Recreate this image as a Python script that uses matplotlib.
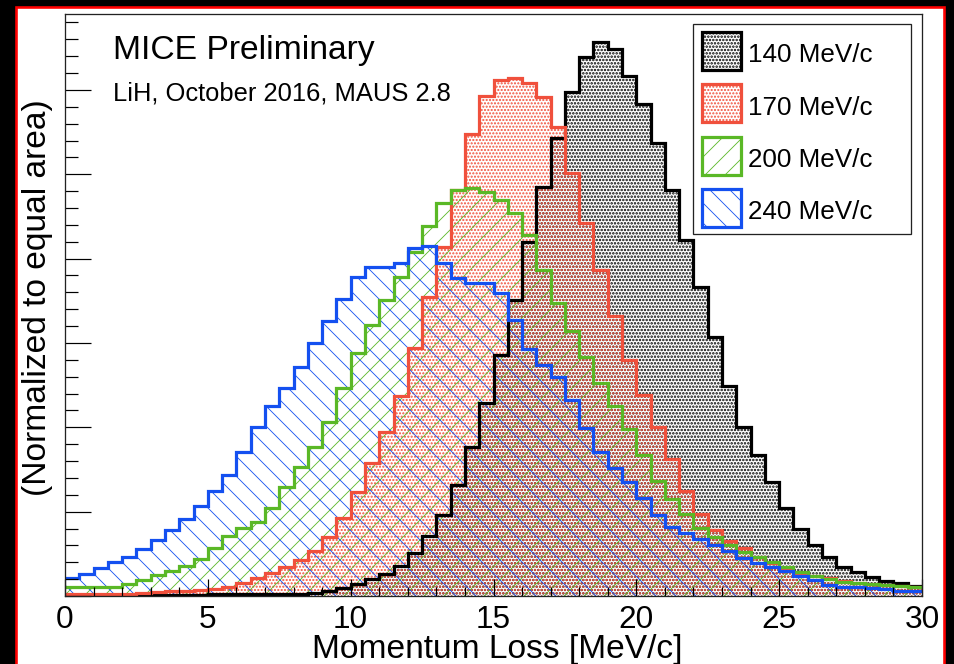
import numpy as np
import matplotlib
matplotlib.use("Agg")
import matplotlib.pyplot as plt
from matplotlib.patches import Rectangle
from matplotlib.ticker import MultipleLocator

# ---------------- data (0.5 MeV/c bins from 0 to 30 MeV/c) ----------------
bin_lo, bin_hi, n_bins = 0.0, 30.0, 60

loss_140 = [0.01, 0.01, 0.01, 0.01, 0.01, 0.01, 0.01, 0.01, 0.01, 0.01,
            0.02, 0.02, 0.02, 0.02, 0.02, 0.02, 0.02, 0.04, 0.06, 0.09,
            0.14, 0.20, 0.26, 0.36, 0.51, 0.71, 0.96, 1.32, 1.77, 2.29,
            2.86, 3.51, 4.20, 4.85, 5.43, 5.98, 6.39, 6.57, 6.48, 6.17,
            5.83, 5.37, 4.81, 4.22, 3.66, 3.07, 2.49, 2.00, 1.67, 1.35,
            1.04, 0.79, 0.61, 0.46, 0.34, 0.28, 0.22, 0.18, 0.15, 0.12]

loss_170 = [0.02, 0.02, 0.02, 0.02, 0.02, 0.04, 0.05, 0.06, 0.06, 0.07,
            0.08, 0.11, 0.15, 0.21, 0.27, 0.34, 0.43, 0.53, 0.70, 0.92,
            1.23, 1.58, 1.94, 2.37, 2.94, 3.55, 4.14, 4.81, 5.48, 5.93,
            6.12, 6.14, 6.08, 5.92, 5.56, 5.02, 4.42, 3.87, 3.32, 2.80,
            2.38, 2.00, 1.62, 1.25, 0.97, 0.78, 0.65, 0.57, 0.46, 0.39,
            0.32, 0.27, 0.24, 0.21, 0.18, 0.15, 0.14, 0.13, 0.12, 0.11]

loss_200 = [0.11, 0.11, 0.11, 0.11, 0.14, 0.19, 0.25, 0.30, 0.36, 0.44,
            0.57, 0.71, 0.81, 0.88, 1.04, 1.29, 1.53, 1.77, 2.06, 2.47,
            2.88, 3.21, 3.51, 3.78, 4.08, 4.39, 4.66, 4.81, 4.84, 4.79,
            4.70, 4.54, 4.28, 3.87, 3.47, 3.14, 2.83, 2.53, 2.25, 1.98,
            1.67, 1.36, 1.15, 0.97, 0.81, 0.70, 0.60, 0.52, 0.46, 0.40,
            0.34, 0.28, 0.24, 0.20, 0.17, 0.15, 0.14, 0.13, 0.12, 0.11]

loss_240 = [0.21, 0.26, 0.33, 0.40, 0.46, 0.56, 0.66, 0.78, 0.91, 1.07,
            1.25, 1.43, 1.71, 2.00, 2.25, 2.47, 2.72, 3.00, 3.26, 3.52,
            3.78, 3.90, 3.90, 3.95, 4.12, 4.15, 3.95, 3.77, 3.71, 3.71,
            3.59, 3.27, 2.93, 2.74, 2.60, 2.32, 1.99, 1.71, 1.52, 1.35,
            1.16, 0.96, 0.82, 0.75, 0.68, 0.60, 0.53, 0.45, 0.39, 0.34,
            0.30, 0.24, 0.19, 0.13, 0.11, 0.11, 0.09, 0.08, 0.06, 0.06]

labels = ["140 MeV/c", "170 MeV/c", "200 MeV/c", "240 MeV/c"]
colors = ["#000000", "#f0503c", "#5ab826", "#1450f0"]
hatches = ["......", "......", "//", "\\\\"]
hatch_lw = [1.0, 0.85, 0.5, 0.5]
x_ticks = [0, 5, 10, 15, 20, 25, 30]
x_label = "Momentum Loss [MeV/c]"
y_label = "(Normalized to equal area)"
title_main = "MICE Preliminary"
title_sub = "LiH, October 2016, MAUS 2.8"

# ---------------- figure ----------------
DPI = 120
W, H = 954, 664


def pt(px):
    return px * 72.0 / DPI


def fx(px):
    return px / W


def fy(py):
    return 1.0 - py / H


plt.rcParams["font.family"] = ["Liberation Sans", "DejaVu Sans"]

fig = plt.figure(figsize=(W / DPI, H / DPI), dpi=DPI, facecolor="black")

# red frame with white inside
frame = Rectangle((fx(16), fy(672)), fx(943.8) - fx(16), fy(7.2) - fy(672),
                  transform=fig.transFigure, facecolor="white",
                  edgecolor="#ff0000", linewidth=pt(2.6), zorder=-10)
fig.add_artist(frame)

ax = fig.add_axes([fx(65), fy(596), fx(922) - fx(65), fy(14) - fy(596)])
ax.set_facecolor("white")

edges = np.linspace(bin_lo, bin_hi, n_bins + 1)
series = [loss_140, loss_170, loss_200, loss_240]

for vals, col, hat, hlw in zip(series, colors, hatches, hatch_lw):
    with plt.rc_context({"hatch.linewidth": hlw}):
        ax.stairs(vals, edges, fill=True, facecolor="none", edgecolor=col,
                  hatch=hat, linewidth=0)
for vals, col in zip(series, colors):
    ax.stairs(vals, edges, color=col, linewidth=pt(3.2), baseline=None)

ax.set_xlim(bin_lo, bin_hi)
ax.set_ylim(0, 6.90)

ax.set_xticks(x_ticks)
ax.xaxis.set_minor_locator(MultipleLocator(1))
ax.yaxis.set_major_locator(MultipleLocator(1))
ax.yaxis.set_minor_locator(MultipleLocator(0.2))

ax.tick_params(axis="x", which="both", direction="in", top=False,
               labelsize=pt(31.5), pad=pt(9), width=pt(1.2), color="black")
ax.tick_params(axis="x", which="major", length=pt(17.5))
ax.tick_params(axis="x", which="minor", length=pt(8.7))
ax.tick_params(axis="y", which="both", direction="in", right=False,
               labelleft=False, width=pt(1.2), color="black")
ax.tick_params(axis="y", which="major", length=pt(25.7))
ax.tick_params(axis="y", which="minor", length=pt(12.9))
for s in ax.spines.values():
    s.set_linewidth(pt(1.3))
    s.set_color("#222222")

# axis titles
fig.text(fx(497), fy(658), x_label, ha="center", va="baseline",
         fontsize=pt(33.5), color="black")
fig.text(fx(38), fy(298), y_label, ha="center", va="center", rotation=90,
         fontsize=pt(33.5), color="black")

# annotations
fig.text(fx(113), fy(59), title_main, ha="left", va="baseline",
         fontsize=pt(33.6), color="black")
fig.text(fx(113), fy(101), title_sub, ha="left", va="baseline",
         fontsize=pt(25.5), color="black")

# legend (drawn by hand to mimic ROOT TLegend)
leg_box = Rectangle((fx(693), fy(234)), fx(911) - fx(693), fy(24) - fy(234),
                    transform=fig.transFigure, facecolor="white",
                    edgecolor="#222222", linewidth=pt(1.3), zorder=5)
fig.add_artist(leg_box)
for i, (lab, col, hat, hlw) in enumerate(zip(labels, colors, hatches, hatch_lw)):
    yc = 51 + 52.3 * i
    with plt.rc_context({"hatch.linewidth": hlw}):
        sw = Rectangle((fx(702), fy(yc + 19)), fx(741) - fx(702),
                       fy(yc - 19) - fy(yc + 19), transform=fig.transFigure,
                       facecolor="white", edgecolor=col, hatch=hat,
                       linewidth=pt(3.2), zorder=6)
        fig.add_artist(sw)
    fig.text(fx(748), fy(yc + 11.5), lab, ha="left", va="baseline",
             fontsize=pt(26), color="black", zorder=7)

fig.savefig("out.png", dpi=DPI, facecolor="black")
